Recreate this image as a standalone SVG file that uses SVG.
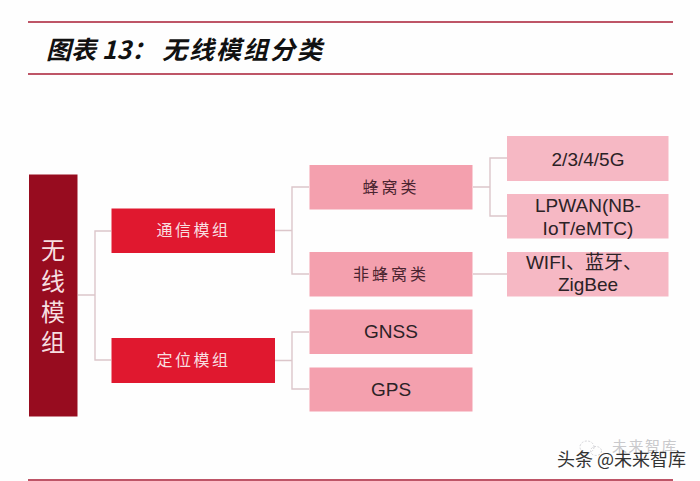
<svg xmlns="http://www.w3.org/2000/svg" width="700" height="481" viewBox="0 0 700 481">
<style>
.rule{stroke:#a81c34;stroke-width:1.6;fill:none}
.c{stroke:#dcc6ca;stroke-width:1.4;fill:none}
.t{font-family:"Noto Sans CJK SC","Noto Sans",sans-serif;text-anchor:middle}
.w{fill:#f8dfe0;font-size:16px;letter-spacing:2.5px}
.d{fill:#4a2430;font-size:16px;letter-spacing:3px}
.e{font-family:"Liberation Sans","Noto Sans CJK SC",sans-serif;fill:#2b2226;font-size:19px;text-anchor:middle}
.n2{fill:#e0182f}.n3{fill:#f4a0ae}.n4{fill:#f6b8c4}
</style>
<rect width="700" height="481" fill="#fefefe"/>
<g id="frame">
<line class="rule" x1="28" y1="22" x2="673" y2="22"/>
<line class="rule" x1="28" y1="74" x2="673" y2="74"/>
<line class="rule" x1="28" y1="480" x2="673" y2="480"/>
<text x="46" y="59" font-family="Noto Sans CJK SC,sans-serif" font-size="25" font-weight="700" font-style="italic" fill="#111">图表 13：<tspan x="162" letter-spacing="2">无线模组分类</tspan></text>
</g>
<g id="connectors">
<path class="c" d="M78 295H95M111 231H95V360H111"/>
<path class="c" d="M275 230.500H292M309 187H292V274H309"/>
<path class="c" d="M275 360.500H292M309 332H292V389H309"/>
<path class="c" d="M473 187H490M507 158H490V216H507"/>
<path class="c" d="M473 274H507"/>
</g>
<g id="root"><rect x="29" y="174.500" width="48.500" height="242" fill="#970c1f"/>
<text class="t" fill="#f6dfe0" font-size="24"><tspan x="53" y="259">无</tspan><tspan x="53" y="290">线</tspan><tspan x="53" y="321">模</tspan><tspan x="53" y="351">组</tspan></text></g>
<g id="n-comm"><rect class="n2" x="111.500" y="208.500" width="163.500" height="44.500"/><text class="t w" x="193.500" y="236">通信模组</text></g>
<g id="n-pos"><rect class="n2" x="111.500" y="338" width="163.500" height="45"/><text class="t w" x="193.500" y="366">定位模组</text></g>
<g id="n-cell"><rect class="n3" x="309.500" y="165" width="163" height="44.500"/><text class="t d" x="391" y="193">蜂窝类</text></g>
<g id="n-noncell"><rect class="n3" x="309.500" y="252" width="163" height="44.500"/><text class="t d" x="391" y="280">非蜂窝类</text></g>
<g id="n-gnss"><rect class="n3" x="309.500" y="309.500" width="163" height="44.500"/><text class="e" x="391" y="338">GNSS</text></g>
<g id="n-gps"><rect class="n3" x="309.500" y="367.500" width="163" height="44"/><text class="e" x="391" y="396">GPS</text></g>
<g id="n-245g"><rect class="n4" x="507" y="136" width="161.500" height="45"/><text class="e" x="588" y="165.500">2/3/4/5G</text></g>
<g id="n-lpwan"><rect class="n4" x="507" y="194" width="161.500" height="44.500"/><text class="e" x="588" y="212">LPWAN(NB-</text><text class="e" x="588" y="235">IoT/eMTC)</text></g>
<g id="n-wifi"><rect class="n4" x="507" y="252" width="161.500" height="44.500"/><text class="e" x="584" y="269">WIFI、蓝牙、</text><text class="e" x="588" y="291">ZigBee</text></g>
<g id="watermark">
<g fill="none" stroke="#d4d4d8" stroke-width="1" stroke-dasharray="2 1.500"><ellipse cx="587" cy="447" rx="7" ry="6"/><ellipse cx="596" cy="451" rx="5.500" ry="4.500"/></g>
<text x="612" y="452" font-family="Noto Sans CJK SC,sans-serif" font-size="15" fill="#c9c9cc" letter-spacing="1.500">未来智库</text>
<text x="557" y="466" font-family="Noto Sans CJK SC,sans-serif" font-size="18" fill="#333">头条 @未来智库</text>
</g>
</svg>
